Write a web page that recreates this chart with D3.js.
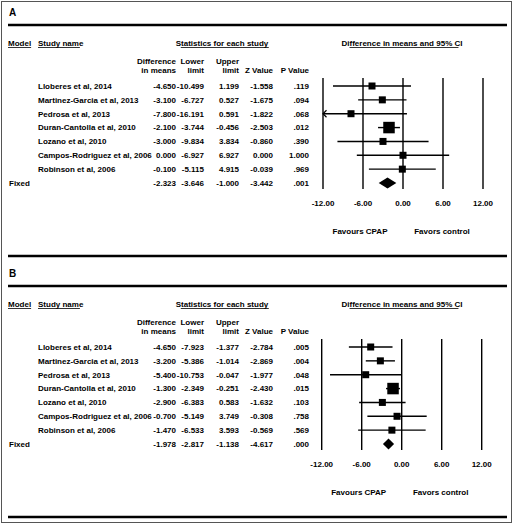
<!DOCTYPE html>
<html><head><meta charset="utf-8">
<script src="https://cdn.jsdelivr.net/npm/d3@7"></script>
<style>body{margin:0;background:#fff}svg{display:block}text{font-family:"Liberation Sans",Arial,sans-serif;font-weight:bold;fill:#000}</style>
</head><body>
<script>
const studies = ["Lloberes et al, 2014","Martinez-Garcia et al, 2013","Pedrosa et al, 2013","Duran-Cantolla et al, 2010","Lozano et al, 2010","Campos-Rodriguez et al, 2006","Robinson et al, 2006"];
const diffA  = [-4.650,-3.100,-7.800,-2.100,-3.000,0.000,-0.100];
const lowerA = [-10.499,-6.727,-16.191,-3.744,-9.834,-6.927,-5.115];
const upperA = [1.199,0.527,0.591,-0.456,3.834,6.927,4.915];
const zA     = [-1.558,-1.675,-1.822,-2.503,-0.860,0.000,-0.039];
const pA     = [0.119,0.094,0.068,0.012,0.390,1.000,0.969];
const fixedA = [-2.323,-3.646,-1.000,-3.442,0.001];

const diffB  = [-4.650,-3.200,-5.400,-1.300,-2.900,-0.700,-1.470];
const lowerB = [-7.923,-5.386,-10.753,-2.349,-6.383,-5.149,-6.533];
const upperB = [-1.377,-1.014,-0.047,-0.251,0.583,3.749,3.593];
const zB     = [-2.784,-2.869,-1.977,-2.430,-1.632,-0.308,-0.569];
const pB     = [0.005,0.004,0.048,0.015,0.103,0.758,0.569];
const fixedB = [-1.978,-2.817,-1.138,-4.617,0.000];

const ticks = [-12,-6,0,6,12];
const panelLabels = ["A","B"];

const W=514,H=525;
const svg=d3.select("body").append("svg").attr("width",W).attr("height",H);
svg.append("rect").attr("x",1.5).attr("y",1.5).attr("width",510).attr("height",521)
  .attr("fill","none").attr("stroke","#555").attr("stroke-width",1);

const fmt3=d3.format(".3f");
const f3=v=>fmt3(v).replace("\u2212","-");
const fp=v=>{const s=f3(v);return v<1?s.replace(/^0/,""):s;};
const f2=v=>d3.format(".2f")(v).replace("\u2212","-");
const fs=8;

function panel(label,top,shift,diff,lower,upper,z,p,fixed){
  const g=svg.append("g").attr("transform",`translate(0,${top})`);
  g.append("text").attr("x",9).attr("y",12).attr("dy","0.35em").style("font-size","10px").text(label);
  g.append("line").attr("x1",8).attr("x2",507).attr("y1",25).attr("y2",25).attr("stroke","#000").attr("stroke-width",2.6);
  g.append("line").attr("x1",8).attr("x2",507).attr("y1",256).attr("y2",256).attr("stroke","#000").attr("stroke-width",2.6);

  const hdr=(x,y,t,anchor,ul)=>{
    const tx=g.append("text").attr("x",x).attr("y",y).attr("dy","0.35em").attr("text-anchor",anchor||"start").style("font-size",fs+"px").text(t);
    if(ul){const b=tx.node().getBBox();g.append("line").attr("x1",b.x+ul[0]).attr("x2",b.x+b.width-ul[1]).attr("y1",y+4.5).attr("y2",y+4.5).attr("stroke","#000").attr("stroke-width",0.8);}
  };
  hdr(8,43,"Model","start",[0,0]);
  hdr(38,43,"Study name","start",[0,4]);
  hdr(222,43,"Statistics for each study","middle",[5,0]);
  hdr(402,43,"Difference in means and 95% CI","middle",[8,4]);

  const cols=[176,204,239,273,309];
  hdr(cols[0],61,"Difference","end");hdr(cols[0],70,"in means","end");
  hdr(cols[1],61,"Lower","end");hdr(cols[1],70,"limit","end");
  hdr(cols[2],61,"Upper","end");hdr(cols[2],70,"limit","end");
  hdr(cols[3],70,"Z Value","end");
  hdr(cols[4],70,"P Value","end");

  const y=d3.scaleLinear().domain([0,7]).range([86,183]);
  const x=d3.scaleLinear().domain([ticks[0],ticks[ticks.length-1]]).range([323+shift,483+shift]);

  const rows=studies.map((s,i)=>({name:s,diff:diff[i],lower:lower[i],upper:upper[i],z:z[i],p:p[i],
    w:1/Math.pow((upper[i]-lower[i])/3.92,2)}));
  const size=d3.scaleSqrt().domain([0,d3.max(rows,d=>d.w)]).range([0,11.5]);

  rows.forEach((d,i)=>{
    const yy=y(i);
    const t=(xx,txt,anc)=>g.append("text").attr("x",xx).attr("y",yy).attr("dy","0.35em").attr("text-anchor",anc).style("font-size",fs+"px").text(txt);
    t(38,d.name,"start");
    t(cols[0],f3(d.diff),"end");t(cols[1],f3(d.lower),"end");t(cols[2],f3(d.upper),"end");
    t(cols[3],f3(d.z),"end");t(cols[4],fp(d.p),"end");
  });
  const yf=y(7);
  const tf=(xx,txt,anc)=>g.append("text").attr("x",xx).attr("y",yf).attr("dy","0.35em").attr("text-anchor",anc).style("font-size",fs+"px").text(txt);
  tf(9,"Fixed","start");
  tf(cols[0],f3(fixed[0]),"end");tf(cols[1],f3(fixed[1]),"end");tf(cols[2],f3(fixed[2]),"end");
  tf(cols[3],f3(fixed[3]),"end");tf(cols[4],fp(fixed[4]),"end");

  g.selectAll(".grid").data(ticks).join("line").attr("x1",d=>x(d)).attr("x2",d=>x(d))
    .attr("y1",78).attr("y2",189).attr("stroke","#000").attr("stroke-width",1.4);
  g.selectAll(".tick").data(ticks).join("text").attr("x",d=>x(d)).attr("y",203).attr("dy","0.35em")
    .attr("text-anchor","middle").style("font-size",fs+"px").text(d=>f2(d));
  g.append("text").attr("x",x(-6)-3).attr("y",231).attr("dy","0.35em").attr("text-anchor","middle").style("font-size",fs+"px").text("Favours CPAP");
  g.append("text").attr("x",x(6)-1).attr("y",231).attr("dy","0.35em").attr("text-anchor","middle").style("font-size",fs+"px").text("Favors control");

  const lo=ticks[0],hi=ticks[ticks.length-1];
  rows.forEach((d,i)=>{
    const yy=y(i);
    const l=Math.max(d.lower,lo),u=Math.min(d.upper,hi);
    g.append("line").attr("x1",x(l)).attr("x2",x(u)).attr("y1",yy).attr("y2",yy).attr("stroke","#000").attr("stroke-width",1.4);
    if(d.lower<lo){g.append("path").attr("d",`M${x(lo)+3.5},${yy-3.5}L${x(lo)},${yy}L${x(lo)+3.5},${yy+3.5}`).attr("fill","none").attr("stroke","#000").attr("stroke-width",1.2);}
    const s=Math.max(7,size(d.w));
    g.append("rect").attr("x",x(d.diff)-s/2).attr("y",yy-s/2).attr("width",s).attr("height",s).attr("fill","#000");
  });
  g.append("path").attr("d",`M${x(fixed[1])},${yf}L${x(fixed[0])},${yf-5.5}L${x(fixed[2])},${yf}L${x(fixed[0])},${yf+5.5}Z`).attr("fill","#000");
}
panel(panelLabels[0],0,0,diffA,lowerA,upperA,zA,pA,fixedA);
panel(panelLabels[1],261,-1.3,diffB,lowerB,upperB,zB,pB,fixedB);
</script>
</body></html>
